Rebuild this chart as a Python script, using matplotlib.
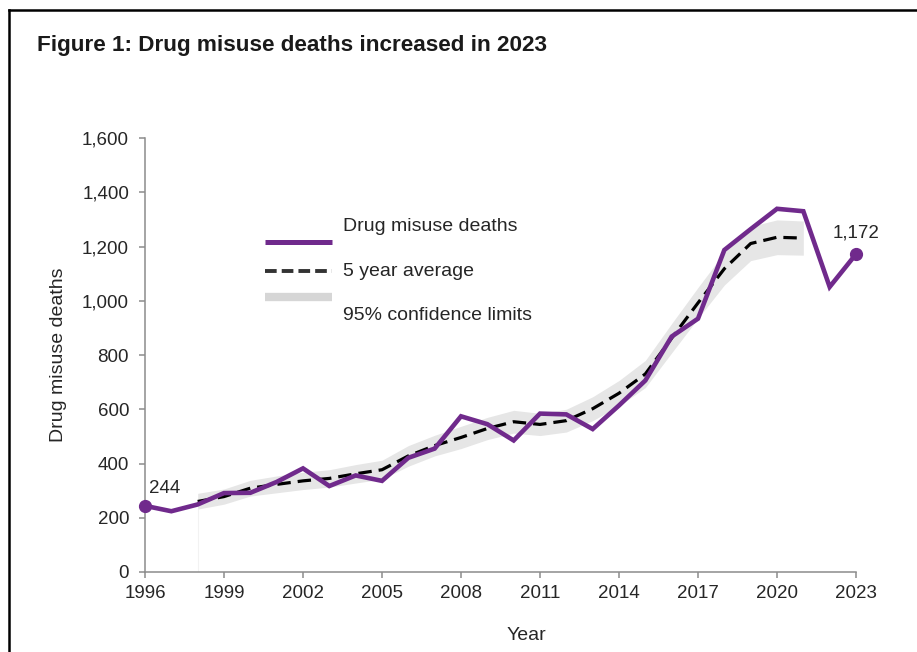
import matplotlib.pyplot as plt
from matplotlib.lines import Line2D

plt.rcParams['font.family'] = ['Liberation Sans', 'DejaVu Sans']

# Annual drug misuse deaths
years = list(range(1996, 2024))
deaths = [244, 224, 249, 291, 292, 332, 382, 317, 356, 336, 421, 455, 574, 545,
          485, 584, 581, 527, 614, 706, 868, 934, 1187, 1264, 1339, 1330, 1051, 1172]

# Centred 5 year average and its 95% confidence limits (1998-2021)
avg_years = list(range(1998, 2022))
avg = [260, 278, 309, 323, 336, 345, 362, 377, 428, 466, 496, 529, 554, 544,
       558, 602, 659, 730, 862, 992, 1118, 1211, 1234, 1231]
lower = [232, 250, 280, 292, 304, 313, 328, 342, 390, 428, 455, 488, 512, 503,
         516, 558, 612, 680, 808, 935, 1058, 1148, 1170, 1168]
upper = [290, 306, 338, 354, 368, 377, 396, 412, 466, 504, 537, 570, 596, 585,
         600, 646, 706, 780, 916, 1049, 1178, 1274, 1298, 1294]

xticks = list(range(1996, 2024, 3))
yticks = list(range(0, 1601, 200))

purple = '#702a8c'
band = '#e6e6e6'
txt = '#262626'
spine = '#8c8c8c'
fs = 13.5

fig = plt.figure(figsize=(9.17, 6.52), dpi=100)
ax = fig.add_axes([145 / 917, 1 - 572 / 652, 711 / 917, 434 / 652])

# confidence band + faint edge down to the axis
ax.fill_between(avg_years, lower, upper, color=band, lw=0, zorder=1)
ax.vlines(avg_years[0], 0, lower[0], color='#f2f2f2', lw=0.8, zorder=0)

ax.plot(avg_years, avg, color='black', lw=2.3, dashes=(4.2, 2.2), zorder=2)
ax.plot(years, deaths, color=purple, lw=3.3, solid_joinstyle='miter', zorder=3)
ax.plot([years[0], years[-1]], [deaths[0], deaths[-1]], 'o', color=purple,
        ms=8.5, clip_on=False, zorder=4)

ax.annotate(f'{deaths[0]:,}', (years[0], deaths[0]), xytext=(3, 6),
            textcoords='offset points', fontsize=fs, color=txt, va='bottom', ha='left')
ax.annotate(f'{deaths[-1]:,}', (years[-1], deaths[-1]), xytext=(0, 9),
            textcoords='offset points', fontsize=fs, color=txt, va='bottom', ha='center')

ax.set_xlim(1996, 2023)
ax.set_ylim(0, 1600)
ax.set_xticks(xticks)
ax.set_yticks(yticks)
ax.set_yticklabels([f'{v:,}' for v in yticks])
for s in ['top', 'right']:
    ax.spines[s].set_visible(False)
for s in ['left', 'bottom']:
    ax.spines[s].set_color(spine)
    ax.spines[s].set_linewidth(1.1)
ax.tick_params(axis='both', colors=spine, labelcolor=txt, labelsize=fs,
               length=4.5, width=1.1)
ax.tick_params(axis='y', pad=7)
ax.tick_params(axis='x', pad=5)
ax.set_ylabel('Drug misuse deaths', fontsize=14, color=txt, labelpad=11)

# hand-placed legend
ax.plot([0.169, 0.263], [0.760, 0.760], color=purple, lw=3.6,
        solid_capstyle='butt', transform=ax.transAxes, clip_on=False)
ax.plot([0.169, 0.263], [0.6935, 0.6935], color='#333333', lw=2.8,
        dashes=(3.0, 1.3), transform=ax.transAxes, clip_on=False)
ax.plot([0.169, 0.263], [0.6336, 0.6336], color='#d6d6d6', lw=6,
        solid_capstyle='butt', transform=ax.transAxes, clip_on=False)
for y, label in [(0.797, 'Drug misuse deaths'), (0.6935, '5 year average'),
                 (0.590, '95% confidence limits')]:
    ax.text(0.2785, y, label, fontsize=14, color=txt, va='center',
            transform=ax.transAxes)

fig.text(526 / 917, 1 - 635 / 652, 'Year', fontsize=14, color=txt,
         ha='center', va='center')
fig.text(37 / 917, 1 - 45 / 652, 'Figure 1: Drug misuse deaths increased in 2023',
         fontsize=16.2, fontweight='bold', color='#1a1a1a', va='center')

# outer frame (left and top edges)
fig.add_artist(Line2D([9 / 917, 9 / 917], [0, 1 - 10 / 652], color='black', lw=1.8))
fig.add_artist(Line2D([9 / 917, 1], [1 - 10 / 652, 1 - 10 / 652], color='black', lw=1.8))

fig.savefig('out.png', dpi=100)
